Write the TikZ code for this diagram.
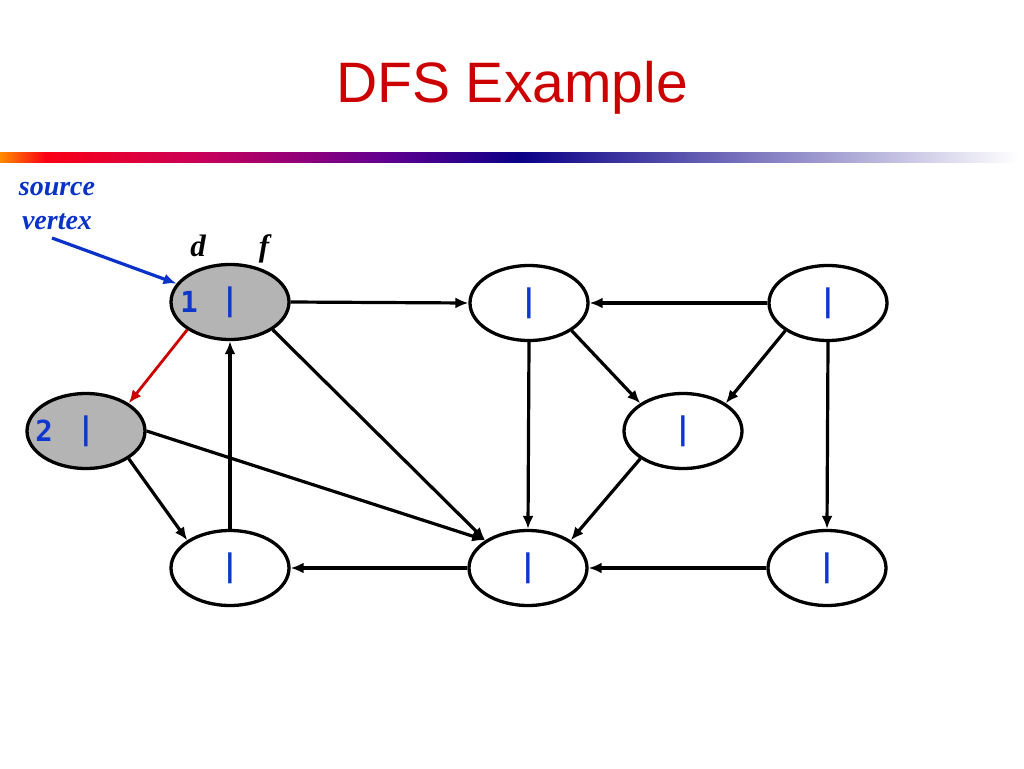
\documentclass[tikz,border=0pt]{standalone}
\usepackage{fontspec}
\setmainfont{Liberation Serif}
\newfontfamily\titlefont{Liberation Sans}
\newfontfamily\monofont{DejaVu Sans Mono}
\usetikzlibrary{shapes.geometric,arrows.meta}
\definecolor{titlered}{RGB}{204,0,0}
\definecolor{nodeblue}{RGB}{15,55,205}
\definecolor{srcblue}{RGB}{10,50,200}
\definecolor{vgray}{RGB}{180,180,180}
\definecolor{barorange}{RGB}{255,140,0}
\definecolor{barred}{RGB}{250,0,20}
\definecolor{barcrimson}{RGB}{200,0,90}
\definecolor{barpurple}{RGB}{100,0,145}
\definecolor{barnavy}{RGB}{10,0,135}
\begin{document}
\begin{tikzpicture}[x=1pt,y=-1pt,
  vert/.style={ellipse, draw=black, line width=3.3pt, minimum width=118pt, minimum height=75pt,
    inner sep=0pt, fill=white, font=\monofont\bfseries\fontsize{31}{31}\selectfont, text=nodeblue},
  visited/.style={fill=vgray},
  numlabel/.style={font=\monofont\bfseries\fontsize{29}{29}\selectfont, text=nodeblue, inner sep=0pt},
  conn/.style={line width=3.2pt, -{Latex[length=13pt,width=11pt]}},
  sidetext/.style={font=\bfseries\itshape\fontsize{28}{34}\selectfont, text=srcblue, inner sep=0pt, anchor=base},
  dftext/.style={font=\bfseries\itshape\fontsize{31}{31}\selectfont, text=black, inner sep=0pt, anchor=base}]
\fill[white] (0,0) rectangle (1024,768);
\useasboundingbox (0,0) rectangle (1024,768);

% title
\node[font=\titlefont\fontsize{57}{57}\selectfont, text=titlered, anchor=base, inner sep=0pt] (title) at (512,102) {DFS Example};

% gradient bar
\shade[left color=barorange, right color=barred] (0,152) rectangle (46,162);
\shade[left color=barred, right color=barcrimson] (45,152) rectangle (201,162);
\shade[left color=barcrimson, right color=barpurple] (200,152) rectangle (381,162);
\shade[left color=barpurple, right color=barnavy] (380,152) rectangle (521,162);
\shade[left color=barnavy, right color=white] (520,152) rectangle (1018,162);

% vertices
\node[vert, visited] (n1) at (230,302) {|};
\node[vert, visited] (n2) at (86,431) {|};
\node[vert] (tm) at (529,303) {|};
\node[vert] (tr) at (828,303) {|};
\node[vert] (md) at (683,431) {|};
\node[vert] (bl) at (230,568) {|};
\node[vert] (bm) at (528,568) {|};
\node[vert] (br) at (827,568) {|};

\node[numlabel] (d1) at (189,302) {1};
\node[numlabel] (d2) at (44,431) {2};

% labels
\node[sidetext] (src1) at (57,195) {source};
\node[sidetext] (src2) at (57,229) {vertex};
\node[dftext] (dlab) at (198,256) {d};
\node[dftext] (flab) at (264,256) {f};

% edges
\draw[conn] (n1.east) -- (tm.west);
\draw[conn] (tr.west) -- (tm.east);
\draw[conn] (tm.327) -- (md.147);
\draw[conn] (tr.213) -- (md.33);
\draw[conn] (tm.south) -- (bm.north);
\draw[conn] (tr.south) -- (br.north);
\draw[conn] (md.213) -- (bm.33);
\draw[conn] (br.west) -- (bm.east);
\draw[conn] (bm.west) -- (bl.east);
\draw[conn] (bl.north) -- (n1.south);
\draw[conn] (n1.327) -- (bm.147);
\draw[conn] (n2.east) -- (bm.147);
\draw[conn] (n2.327) -- (bl.147);
\draw[conn, draw=titlered, line width=2.8pt] (n1.213) -- (n2.33);

% source pointer
\coordinate (srcstart) at (52,238);
\draw[conn, draw=srcblue] (srcstart) -- (n1.161);
\end{tikzpicture}
\end{document}
